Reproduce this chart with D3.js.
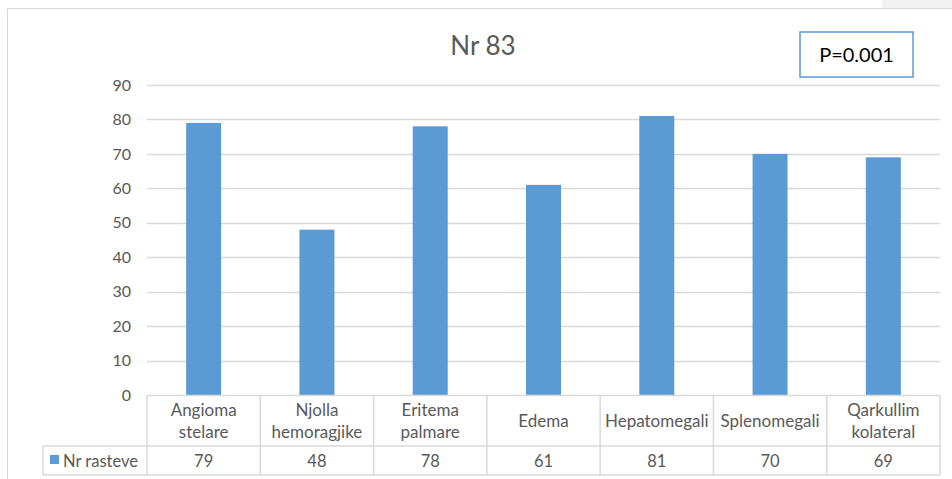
<!DOCTYPE html>
<html>
<head>
<meta charset="utf-8">
<script src="https://cdn.jsdelivr.net/npm/d3@7"></script>
<style>
  html, body { margin: 0; padding: 0; background: #fff; }
  svg { display: block; font-family: Lato, "Open Sans", "Liberation Sans", sans-serif; }
</style>
</head>
<body>
<svg id="chart" width="952" height="479"></svg>
<script>
// Clinical findings, number of cases
const categories = [
  ["Angioma", "stelare"],
  ["Njolla", "hemoragjike"],
  ["Eritema", "palmare"],
  ["Edema"],
  ["Hepatomegali"],
  ["Splenomegali"],
  ["Qarkullim", "kolateral"]
];
const values = [79, 48, 78, 61, 81, 70, 69];
const yTicks = [0, 10, 20, 30, 40, 50, 60, 70, 80, 90];
const seriesName = "Nr rasteve";
const title = "Nr 83";
const note = "P=0.001";

const svg = d3.select("#chart");
const W = 952, H = 479;
const barColor = "#5b9bd5";
const gridColor = "#d9d9d9";
const textColor = "#595959";

// Background strip and outer frame
svg.append("rect").attr("x", 882).attr("y", 0).attr("width", 70).attr("height", 8).attr("fill", "#f2f2f2");
svg.append("path")
  .attr("d", `M7.5,${H} V8.5 H${W}`)
  .attr("fill", "none").attr("stroke", gridColor).attr("stroke-width", 1);

const plot = { left: 147, right: 940, top: 85, bottom: 395 };
const x = d3.scaleBand().domain(d3.range(categories.length)).range([plot.left, plot.right]).paddingInner(0).paddingOuter(0);
const y = d3.scaleLinear().domain([0, 90]).range([plot.bottom, plot.top]);

// Gridlines
svg.append("g").selectAll("line").data(yTicks.filter(d => d > 0)).join("line")
  .attr("x1", plot.left).attr("x2", plot.right)
  .attr("y1", d => Math.round(y(d)) + 0.5).attr("y2", d => Math.round(y(d)) + 0.5)
  .attr("stroke", gridColor).attr("stroke-width", 1.5);

// Y axis labels
const yAxis = d3.axisLeft(y).tickValues(yTicks).tickSize(0).tickPadding(16);
const yg = svg.append("g").attr("transform", `translate(${plot.left},0)`).call(yAxis);
yg.select(".domain").remove();
yg.selectAll("text").attr("fill", textColor).attr("font-size", 16).attr("font-family", "Lato, sans-serif");

// Bars
const barW = 35;
svg.append("g").selectAll("rect").data(values).join("rect")
  .attr("x", (d, i) => x(i) + x.bandwidth() / 2 - barW / 2)
  .attr("width", barW)
  .attr("y", d => y(d))
  .attr("height", d => y(0) - y(d))
  .attr("fill", barColor);

// Data table under the axis
const rowTop = plot.bottom, rowMid = 446, rowBot = 475, legLeft = 43;
const tbl = svg.append("g").attr("stroke", gridColor).attr("stroke-width", 1.5).attr("fill", "none");
tbl.append("line").attr("x1", plot.left).attr("x2", plot.right).attr("y1", rowTop + 0.5).attr("y2", rowTop + 0.5);
tbl.append("line").attr("x1", legLeft).attr("x2", plot.right).attr("y1", rowMid).attr("y2", rowMid);
tbl.append("line").attr("x1", legLeft).attr("x2", plot.right).attr("y1", rowBot).attr("y2", rowBot);
tbl.append("line").attr("x1", legLeft).attr("x2", legLeft).attr("y1", rowMid).attr("y2", rowBot);
tbl.selectAll("line.v").data(d3.range(categories.length + 1)).join("line").attr("class", "v")
  .attr("x1", i => i < categories.length ? x(i) : plot.right)
  .attr("x2", i => i < categories.length ? x(i) : plot.right)
  .attr("y1", rowTop).attr("y2", rowBot);

// Category labels
const catG = svg.append("g").attr("fill", textColor).attr("font-size", 17).attr("text-anchor", "middle");
categories.forEach((lines, i) => {
  const cx = x(i) + x.bandwidth() / 2;
  const t = catG.append("text").attr("x", cx);
  if (lines.length === 1) {
    t.attr("y", 427).text(lines[0]);
  } else {
    lines.forEach((ln, k) => t.append("tspan").attr("x", cx).attr("y", 416 + k * 22).text(ln));
  }
});

// Value row
svg.append("g").attr("fill", textColor).attr("font-size", 16.5).attr("text-anchor", "middle")
  .selectAll("text").data(values).join("text")
  .attr("x", (d, i) => x(i) + x.bandwidth() / 2)
  .attr("y", 467)
  .text(d => d);

// Legend key in the table
svg.append("rect").attr("x", 50).attr("y", 455).attr("width", 9).attr("height", 9).attr("fill", barColor);
svg.append("text").attr("x", 63).attr("y", 467).attr("fill", textColor).attr("font-size", 16.5).text(seriesName);

// Title
svg.append("text").attr("x", 483).attr("y", 55).attr("text-anchor", "middle")
  .attr("fill", textColor).attr("font-size", 26).text(title);

// Note box
svg.append("rect").attr("x", 800).attr("y", 32).attr("width", 113).attr("height", 45)
  .attr("fill", "#fff").attr("stroke", barColor).attr("stroke-width", 1.5);
svg.append("text").attr("x", 856.5).attr("y", 62).attr("text-anchor", "middle")
  .attr("fill", "#000").attr("font-size", 20).text(note);
</script>
</body>
</html>
